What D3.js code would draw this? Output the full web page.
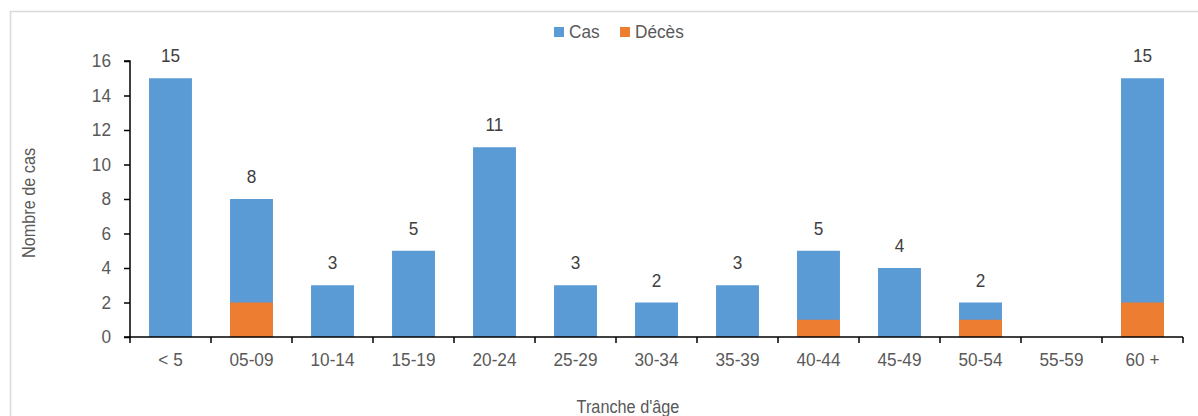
<!DOCTYPE html>
<html><head><meta charset="utf-8">
<script src="https://cdn.jsdelivr.net/npm/d3@7"></script>
<style>body{margin:0;background:#fff}svg{display:block;font-family:"Liberation Sans",Arial,sans-serif}</style>
</head><body>
<svg id="c" width="1198" height="416"></svg>
<script>
const categories = ["< 5","05-09","10-14","15-19","20-24","25-29","30-34","35-39","40-44","45-49","50-54","55-59","60 +"];
const cas    = [15, 8, 3, 5, 11, 3, 2, 3, 5, 4, 2, 0, 15];
const deces  = [0, 2, 0, 0, 0, 0, 0, 0, 1, 0, 1, 0, 2];
const yTicks = [0, 2, 4, 6, 8, 10, 12, 14, 16];
const seriesNames = ["Cas", "Décès"];
const colors = ["#5B9BD5", "#ED7D31"];

(function(){
const svg = d3.select("#c");
svg.append("rect").attr("x",10.5).attr("y",11.5).attr("width",1300).attr("height",500)
  .attr("fill","none").attr("stroke","#d9d9d9").attr("stroke-width",1.5);

const pL = 130, pR = 1183, pT = 61, pB = 337;
const x = d3.scaleBand().domain(categories).range([pL, pR]).paddingInner(0.47).paddingOuter(0.235);
const xb = d3.scaleBand().domain(categories).range([pL, pR]);
const y = d3.scaleLinear().domain([0, 16]).range([pB, pT]);
const sx = "scale(0.93,1)";

const g = svg.append("g");
g.selectAll(".cas").data(categories).join("rect")
  .attr("x", d => x(d)).attr("width", x.bandwidth())
  .attr("y", (d,i) => y(cas[i])).attr("height", (d,i) => y(0) - y(cas[i]))
  .attr("fill", colors[0]);
g.selectAll(".dec").data(categories).join("rect")
  .attr("x", d => x(d)).attr("width", x.bandwidth())
  .attr("y", (d,i) => y(deces[i])).attr("height", (d,i) => y(0) - y(deces[i]))
  .attr("fill", colors[1]);

g.selectAll(".lbl").data(categories.filter((d,i)=>cas[i]>0)).join("text")
  .attr("transform", d => `translate(${x(d) + x.bandwidth()/2},${y(cas[categories.indexOf(d)]) - 16}) ${sx}`)
  .attr("text-anchor","middle").attr("font-size",18.5).attr("fill","#404040")
  .text(d => cas[categories.indexOf(d)]);

// y axis
const ya = svg.append("g").attr("transform",`translate(${pL},0)`)
  .call(d3.axisLeft(y).tickValues(yTicks).tickSize(6).tickPadding(0));
ya.select(".domain").attr("stroke","#000").attr("stroke-width",1.5).attr("d",`M-6,${pT}H0V${pB}H-6`);
ya.selectAll(".tick line").attr("stroke","#000").attr("stroke-width",1.5);
ya.selectAll(".tick text").attr("x",null).attr("transform",`translate(-19,0) ${sx}`)
  .attr("font-size",18.5).attr("fill","#595959").attr("font-family","Liberation Sans, Arial, sans-serif");

// x axis
const xa = svg.append("g").attr("transform",`translate(0,${pB})`)
  .call(d3.axisBottom(xb).tickSize(0).tickPadding(16));
xa.select(".domain").attr("stroke","#000").attr("stroke-width",1.5).attr("d",`M${pL},0H${pR}`);
xa.selectAll(".tick text").attr("transform",sx).attr("font-size",18.5).attr("fill","#595959").attr("font-family","Liberation Sans, Arial, sans-serif");
const bounds = categories.map(c => xb(c)).concat([pR]);
xa.selectAll(".sep").data(bounds).join("line")
  .attr("x1", d=>d).attr("x2", d=>d).attr("y1",0).attr("y2",6)
  .attr("stroke","#000").attr("stroke-width",1.5);

// axis titles
svg.append("text").attr("transform","translate(35,203) rotate(-90) scale(0.93,1)")
  .attr("text-anchor","middle").attr("font-size",17.5).attr("fill","#595959").text("Nombre de cas");
svg.append("text").attr("transform","translate(628,413) scale(0.93,1)")
  .attr("text-anchor","middle").attr("font-size",17.5).attr("fill","#595959").text("Tranche d'âge");

// legend
const leg = svg.append("g");
const legX = [554, 620];
seriesNames.forEach((n,i) => {
  leg.append("rect").attr("x",legX[i]).attr("y",27).attr("width",10).attr("height",10).attr("fill",colors[i]);
  leg.append("text").attr("transform",`translate(${legX[i]+15},38) ${sx}`).attr("font-size",18.5).attr("fill","#595959").text(n);
});
})();
</script>
</body></html>
